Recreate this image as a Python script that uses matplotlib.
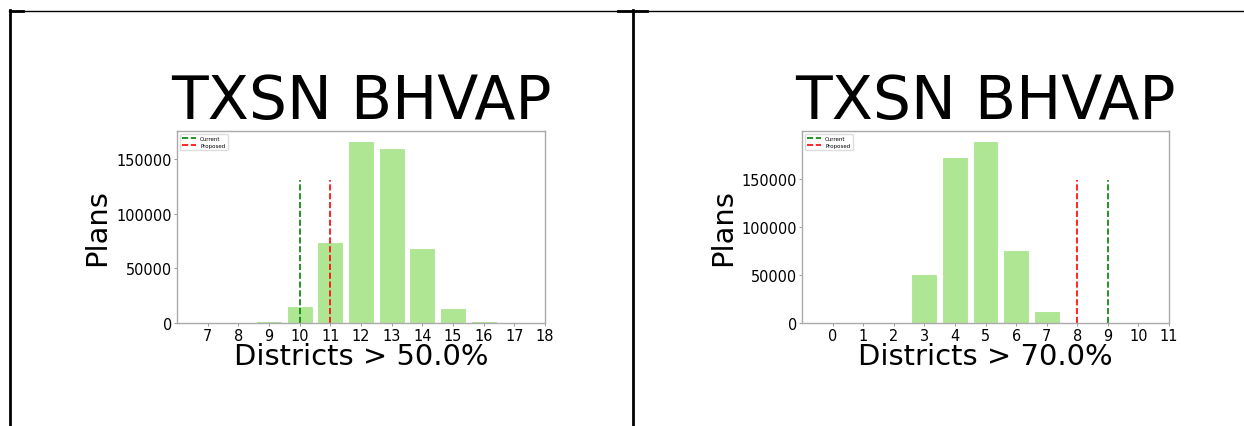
import matplotlib
matplotlib.use("Agg")
import numpy as np
from matplotlib import pyplot as plt
from matplotlib.lines import Line2D

# left chart: districts > 50%
districts_50 = [7, 8, 9, 10, 11, 12, 13, 14, 15, 16, 17, 18]
plans_50 = [0, 0, 1500, 15500, 73800, 166100, 159700, 68600, 13700, 1500, 0, 0]
current_50 = 10
proposed_50 = 11
line_height_50 = 131000

# right chart: districts > 70%
districts_70 = [0, 1, 2, 3, 4, 5, 6, 7, 8, 9, 10, 11]
plans_70 = [0, 0, 0, 50700, 173200, 189300, 76000, 12200, 600, 0, 0, 0]
current_70 = 9
proposed_70 = 8
line_height_70 = 149000

W, H = 1244, 427
fig = plt.figure(figsize=(W / 100, H / 100), dpi=100)


def px(v):
    # pixel size -> points at 100 dpi
    return v * 0.72


def draw_panel(rect, districts, plans, current, proposed, line_h, xlabel, xlim):
    ax = fig.add_axes(rect)
    ax.bar(districts, plans, width=0.85, color='#aee694', edgecolor='white', linewidth=0.8)
    ax.vlines(current, 0, line_h, colors='green', linestyles='--', linewidth=1.2, label='Current')
    ax.vlines(proposed, 0, line_h, colors='red', linestyles='--', linewidth=1.2, label='Proposed')
    ax.set_xlim(*xlim)
    ax.set_xticks(districts)
    ax.set_yticks([0, 50000, 100000, 150000])
    ax.tick_params(labelsize=px(14.5), length=2.5, width=0.6, color='#888888', pad=1)
    for s in ax.spines.values():
        s.set_color('#aaaaaa')
        s.set_linewidth(1.0)
    ax.set_title('TXSN BHVAP', fontsize=px(60), pad=2)
    ax.set_ylabel('Plans', fontsize=px(29))
    ax.yaxis.set_label_coords(-0.178, 0.5)
    ax.set_xlabel(xlabel, fontsize=px(29), va='top')
    ax.xaxis.set_label_coords(0.5, -0.1)
    ax.legend(loc='upper left', fontsize=px(5.5), handlelength=2.5, borderpad=0.4,
              labelspacing=0.3, framealpha=1, edgecolor='#dddddd')
    return ax


ax1 = draw_panel([177 / W, (H - 324) / H, 368 / W, 192 / H], districts_50, plans_50,
                 current_50, proposed_50, line_height_50, 'Districts > 50.0%', (6, 18))
ax1.set_ylim(0, 175500)
ax2 = draw_panel([802 / W, (H - 324) / H, 367 / W, 192 / H], districts_70, plans_70,
                 current_70, proposed_70, line_height_70, 'Districts > 70.0%', (-1, 11))
ax2.set_ylim(0, 200000)

# table borders from the document screenshot
def fig_line(x0, y0, x1, y1, lw):
    fig.add_artist(Line2D([x0 / W, x1 / W], [1 - y0 / H, 1 - y1 / H], color='black',
                          linewidth=lw, transform=fig.transFigure))

fig_line(9, 11.5, 1243, 11.5, 1.0)
fig_line(10, 11, 10, 427, 2.0)
fig_line(633, 11, 633, 427, 2.0)
fig_line(10, 12, 23, 12, 2.0)
fig_line(618, 12, 647, 12, 2.0)

fig.savefig('out.png', dpi=100)
